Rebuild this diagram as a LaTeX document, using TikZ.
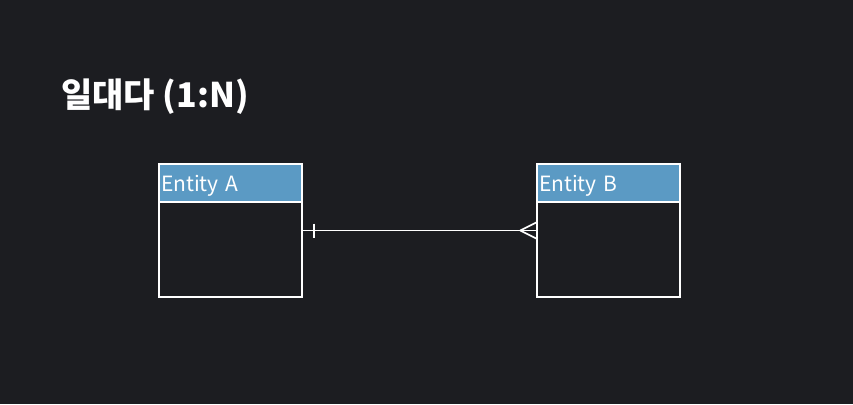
\documentclass[tikz,border=0pt]{standalone}
\usepackage{fontspec}
\setmainfont{Noto Sans CJK KR}
\usepackage{tikz}

\definecolor{bgdark}{HTML}{1C1D21}
\definecolor{headblue}{HTML}{5B9AC4}

\tikzset{
  entbox/.style={draw=white, line width=1.5pt, fill=bgdark, minimum width=143pt, minimum height=133pt, inner sep=0pt},
  enthead/.style={draw=white, line width=1.5pt, fill=headblue, minimum width=143pt, minimum height=38pt, text width=139pt, text height=20pt, text depth=4pt, align=left, inner sep=2pt, text=white, font=\fontsize{21}{24}\selectfont},
  rel/.style={draw=white, line width=1.7pt}
}

\begin{document}
\begin{tikzpicture}[x=1pt,y=-1pt]
\fill[bgdark] (0,0) rectangle (853,404);
\useasboundingbox (0,0) rectangle (853,404);

% title
\node[anchor=west, text=white, inner sep=0pt, font=\fontsize{34}{38}\selectfont\bfseries] (title) at (61,97) {일대다 (1:N)};

% entities
\node[entbox] (a) at (230.5,230.5) {};
\node[enthead, anchor=north] (ahead) at (a.north) {Entity A};
\node[entbox] (b) at (608.5,230.5) {};
\node[enthead, anchor=north] (bhead) at (b.north) {Entity B};

% one to many
\draw[rel] (a.east) -- (b.west);
\draw[rel] ([xshift=11pt]a.east) ++(0,-7) -- ++(0,14);
\draw[rel] ([xshift=-16pt]b.west) -- ++(16,-8);
\draw[rel] ([xshift=-16pt]b.west) -- ++(16,8);
\end{tikzpicture}
\end{document}
